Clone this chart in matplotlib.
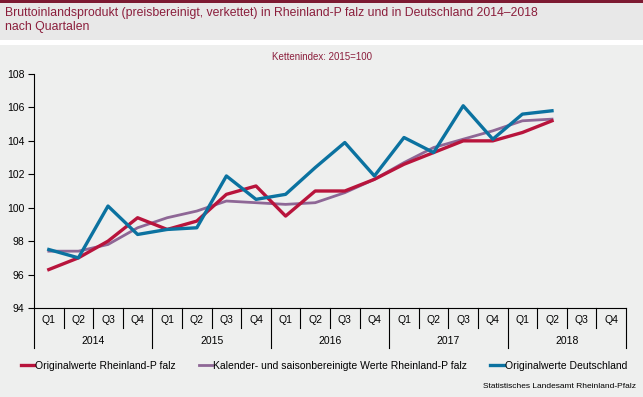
import matplotlib
matplotlib.use('Agg')
import matplotlib.pyplot as plt
import matplotlib.transforms as mtransforms
from matplotlib.patches import Rectangle
import numpy as np

plt.rcParams['font.family'] = ['Liberation Sans', 'DejaVu Sans']

# Daten: Kettenindex 2015=100
years = ['2014', '2015', '2016', '2017', '2018']
quarters = ['Q1', 'Q2', 'Q3', 'Q4']
rlp_orig = [96.3, 97.0, 98.0, 99.4, 98.7, 99.2, 100.8, 101.3, 99.5, 101.0,
            101.0, 101.7, 102.6, 103.3, 104.0, 104.0, 104.5, 105.2]
rlp_sa = [97.4, 97.4, 97.8, 98.8, 99.4, 99.8, 100.4, 100.3, 100.2, 100.3,
          100.9, 101.7, 102.7, 103.6, 104.1, 104.6, 105.2, 105.3]
de_orig = [97.5, 97.0, 100.1, 98.4, 98.7, 98.8, 101.9, 100.5, 100.8, 102.4,
           103.9, 101.9, 104.2, 103.3, 106.1, 104.1, 105.6, 105.8]
labels = ['Originalwerte Rheinland-P falz',
          'Kalender- und saisonbereinigte Werte Rheinland-P falz',
          'Originalwerte Deutschland']
colors = ['#b8143c', '#8e6796', '#0b72a0']

W, H = 643, 397
fig = plt.figure(figsize=(6.43, 3.97), dpi=100)
fig.patch.set_facecolor('#eeefee')

# Kopfbereich
fig.patches.append(Rectangle((0, 1 - 40 / H), 1, 37 / H, transform=fig.transFigure,
                             facecolor='#e8e8e8', edgecolor='none', zorder=0))
fig.patches.append(Rectangle((0, 1 - 45 / H), 1, 5 / H, transform=fig.transFigure,
                             facecolor='white', edgecolor='none', zorder=0))
fig.patches.append(Rectangle((0, 1 - 3 / H), 1, 3 / H, transform=fig.transFigure,
                             facecolor='#7d1a32', edgecolor='none', zorder=0))
fig.text(5 / W, 1 - 13 / H,
         'Bruttoinlandsprodukt (preisbereinigt, verkettet) in Rheinland-P falz und in Deutschland 2014\u20132018',
         fontsize=8.8, color='#8b1e3c', va='center', ha='left')
fig.text(5 / W, 1 - 27 / H, 'nach Quartalen', fontsize=8.8, color='#8b1e3c', va='center', ha='left')
fig.text(322 / W, 1 - 57 / H, 'Kettenindex: 2015=100', fontsize=7, color='#8b1e3c',
         va='center', ha='center')

ax = fig.add_axes([34 / W, (H - 308) / H, (626 - 34) / W, (308 - 74) / H])
ax.set_facecolor('none')

x = np.arange(len(rlp_orig))
ax.plot(x, rlp_orig, color=colors[0], lw=2.4, label=labels[0], zorder=3)
ax.plot(x, rlp_sa, color=colors[1], lw=2.0, label=labels[1], zorder=2)
ax.plot(x, de_orig, color=colors[2], lw=2.4, label=labels[2], zorder=4)

n = len(years) * len(quarters)
ax.set_xlim(-0.5, n - 0.5)
ax.set_ylim(94, 108)
ax.set_yticks(np.arange(94, 109, 2))
ax.tick_params(axis='y', direction='out', length=4, labelsize=7.5, pad=3)
ax.set_xticks([])
for s in ['top', 'right']:
    ax.spines[s].set_visible(False)
ax.spines['left'].set_linewidth(0.8)
ax.spines['bottom'].set_linewidth(0.8)

# Mehrstufige x-Achse
trans = mtransforms.blended_transform_factory(ax.transData, ax.transAxes)
ah = 308 - 74
for i in range(n + 1):
    bottom = -40 / ah if i % 4 == 0 else -20 / ah
    ax.plot([i - 0.5, i - 0.5], [0, bottom], color='black', lw=0.8,
            transform=trans, clip_on=False)
for i in range(n):
    ax.text(i, -12 / ah, quarters[i % 4], transform=trans, ha='center', va='center',
            fontsize=7.5)
for j, yr in enumerate(years):
    ax.text(j * 4 + 1.5, -33 / ah, yr, transform=trans, ha='center', va='center',
            fontsize=7.5)

fig.legend(loc='center', bbox_to_anchor=(324 / W, 1 - 366 / H), ncol=3, frameon=False,
           fontsize=7.5, handlelength=1.3, handletextpad=0.1, columnspacing=2.2)
fig.text(636 / W, 1 - 387 / H, 'Statistisches Landesamt Rheinland-Pfalz', fontsize=6,
         ha='right', va='center')

fig.savefig('out.png', dpi=100, facecolor=fig.get_facecolor())
